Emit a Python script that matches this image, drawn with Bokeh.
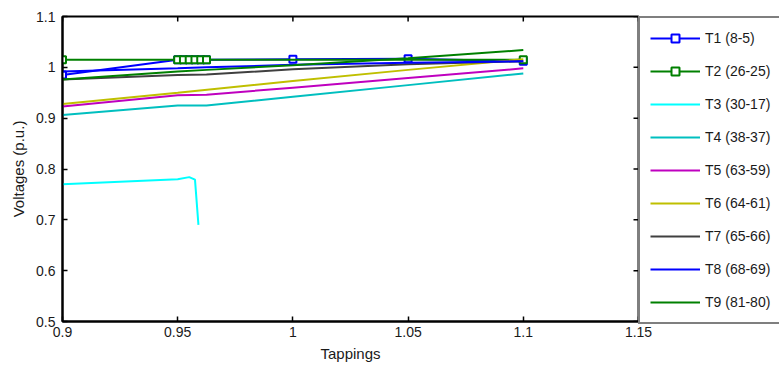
import math
from bokeh.plotting import figure
from bokeh.models import Legend, LegendItem, FixedTicker, Range1d
from bokeh.embed import file_html
from bokeh.resources import INLINE

# Tap positions and bus voltages (p.u.) for each transformer
x_t1 = [0.9, 0.95, 0.9525, 0.955, 0.9575, 0.96, 0.9625, 1.0, 1.05, 1.1]
y_t1 = [0.985, 1.015, 1.015, 1.015, 1.015, 1.015, 1.015, 1.016, 1.017, 1.012]

x_t2 = [0.9, 0.95, 0.9525, 0.955, 0.9575, 0.96, 0.9625, 1.1]
y_t2 = [1.015, 1.015, 1.015, 1.015, 1.015, 1.015, 1.015, 1.015]

x_t3 = [0.9, 0.95, 0.955, 0.9575, 0.959]
y_t3 = [0.770, 0.780, 0.784, 0.779, 0.690]

x_t4 = [0.9, 0.95, 0.9625, 1.0, 1.05, 1.1]
y_t4 = [0.906, 0.925, 0.925, 0.942, 0.965, 0.988]

x_t5 = [0.9, 0.95, 0.9625, 1.0, 1.05, 1.1]
y_t5 = [0.923, 0.945, 0.946, 0.960, 0.979, 0.998]

x_t6 = [0.9, 0.95, 1.0, 1.05, 1.1]
y_t6 = [0.928, 0.950, 0.973, 0.995, 1.016]

x_t7 = [0.9, 0.95, 0.9625, 1.0, 1.05, 1.1]
y_t7 = [0.976, 0.985, 0.986, 0.996, 1.006, 1.012]

x_t8 = [0.9, 0.95, 0.9625, 1.0, 1.05, 1.1]
y_t8 = [0.992, 0.998, 1.000, 1.005, 1.009, 1.012]

x_t9 = [0.9, 0.95, 0.9625, 1.0, 1.05, 1.1]
y_t9 = [0.976, 0.992, 0.995, 1.004, 1.018, 1.034]

names = ["T1 (8-5)", "T2 (26-25)", "T3 (30-17)", "T4 (38-37)", "T5 (63-59)",
         "T6 (64-61)", "T7 (65-66)", "T8 (68-69)", "T9 (81-80)"]
colors = ["#0000FF", "#008000", "#00FFFF", "#00BFBF", "#BF00BF",
          "#BFBF00", "#404040", "#0000FF", "#008000"]
with_markers = [True, True, False, False, False, False, False, False, False]
series_x = [x_t1, x_t2, x_t3, x_t4, x_t5, x_t6, x_t7, x_t8, x_t9]
series_y = [y_t1, y_t2, y_t3, y_t4, y_t5, y_t6, y_t7, y_t8, y_t9]

x_ticks = [0.9, 0.95, 1.0, 1.05, 1.1, 1.15]
x_tick_labels = ["0.9", "0.95", "1", "1.05", "1.1", "1.15"]
y_ticks = [0.5, 0.6, 0.7, 0.8, 0.9, 1.0, 1.1]
y_tick_labels = ["0.5", "0.6", "0.7", "0.8", "0.9", "1", "1.1"]

X_MIN, X_MAX = 0.9, 1.15
Y_MIN, Y_MAX = 0.5, 1.1

FONT = "Liberation Sans"
TEXT = "#1a1a1a"

p = figure(frame_width=576, frame_height=305,
           min_border_left=62, min_border_right=141,
           min_border_top=16, min_border_bottom=44,
           x_range=Range1d(X_MIN, X_MAX), y_range=Range1d(Y_MIN, Y_MAX),
           output_backend="svg", toolbar_location=None)
p.grid.visible = False
p.outline_line_color = "black"
p.outline_line_width = 2
p.background_fill_color = "white"
p.border_fill_color = "white"

items = []
for name, col, mk, xs, ys in zip(names, colors, with_markers, series_x, series_y):
    rs = [p.line(xs, ys, line_color=col, line_width=2)]
    if mk:
        rs.append(p.scatter(xs, ys, marker="square", size=7, line_color=col,
                            line_width=2, fill_color="white"))
    items.append(LegendItem(label=name, renderers=rs))

# inward tick marks mirrored on the top and right sides of the box
p.scatter(x_ticks, [Y_MAX] * len(x_ticks), marker="dash", size=10,
          angle=math.pi / 2, line_color="black", line_width=1.5)
p.scatter([X_MAX] * len(y_ticks), y_ticks, marker="dash", size=10,
          line_color="black", line_width=1.5)

for ax in (p.xaxis[0], p.yaxis[0]):
    ax.major_tick_in = 5
    ax.major_tick_out = 0
    ax.minor_tick_line_color = None
    ax.axis_line_color = "black"
    ax.axis_line_width = 2
    ax.major_tick_line_width = 1.5
    ax.major_label_text_font = FONT
    ax.major_label_text_font_size = "14px"
    ax.major_label_text_color = TEXT
    ax.axis_label_text_font = FONT
    ax.axis_label_text_font_size = "15px"
    ax.axis_label_text_font_style = "normal"
    ax.axis_label_text_color = TEXT

p.xaxis[0].ticker = FixedTicker(ticks=x_ticks)
p.xaxis[0].major_label_overrides = dict(zip(x_ticks, x_tick_labels))
p.xaxis[0].major_label_standoff = 5
p.xaxis[0].axis_label = "Tappings"
p.xaxis[0].axis_label_standoff = 5

p.yaxis[0].ticker = FixedTicker(ticks=y_ticks)
p.yaxis[0].major_label_overrides = dict(zip(y_ticks, y_tick_labels))
p.yaxis[0].major_label_standoff = 7
p.yaxis[0].axis_label = "Voltages (p.u.)"
p.yaxis[0].axis_label_standoff = 6

legend = Legend(items=items, location="top_left", margin=0, padding=10,
                spacing=13, glyph_width=50, glyph_height=20, label_height=20,
                label_width=60, label_standoff=5,
                label_text_font=FONT, label_text_font_size="14px",
                label_text_color=TEXT,
                border_line_color="black", border_line_width=2.5,
                background_fill_color="white", background_fill_alpha=1)
p.add_layout(legend, "right")

open("out.html", "w").write(file_html(p, INLINE))
